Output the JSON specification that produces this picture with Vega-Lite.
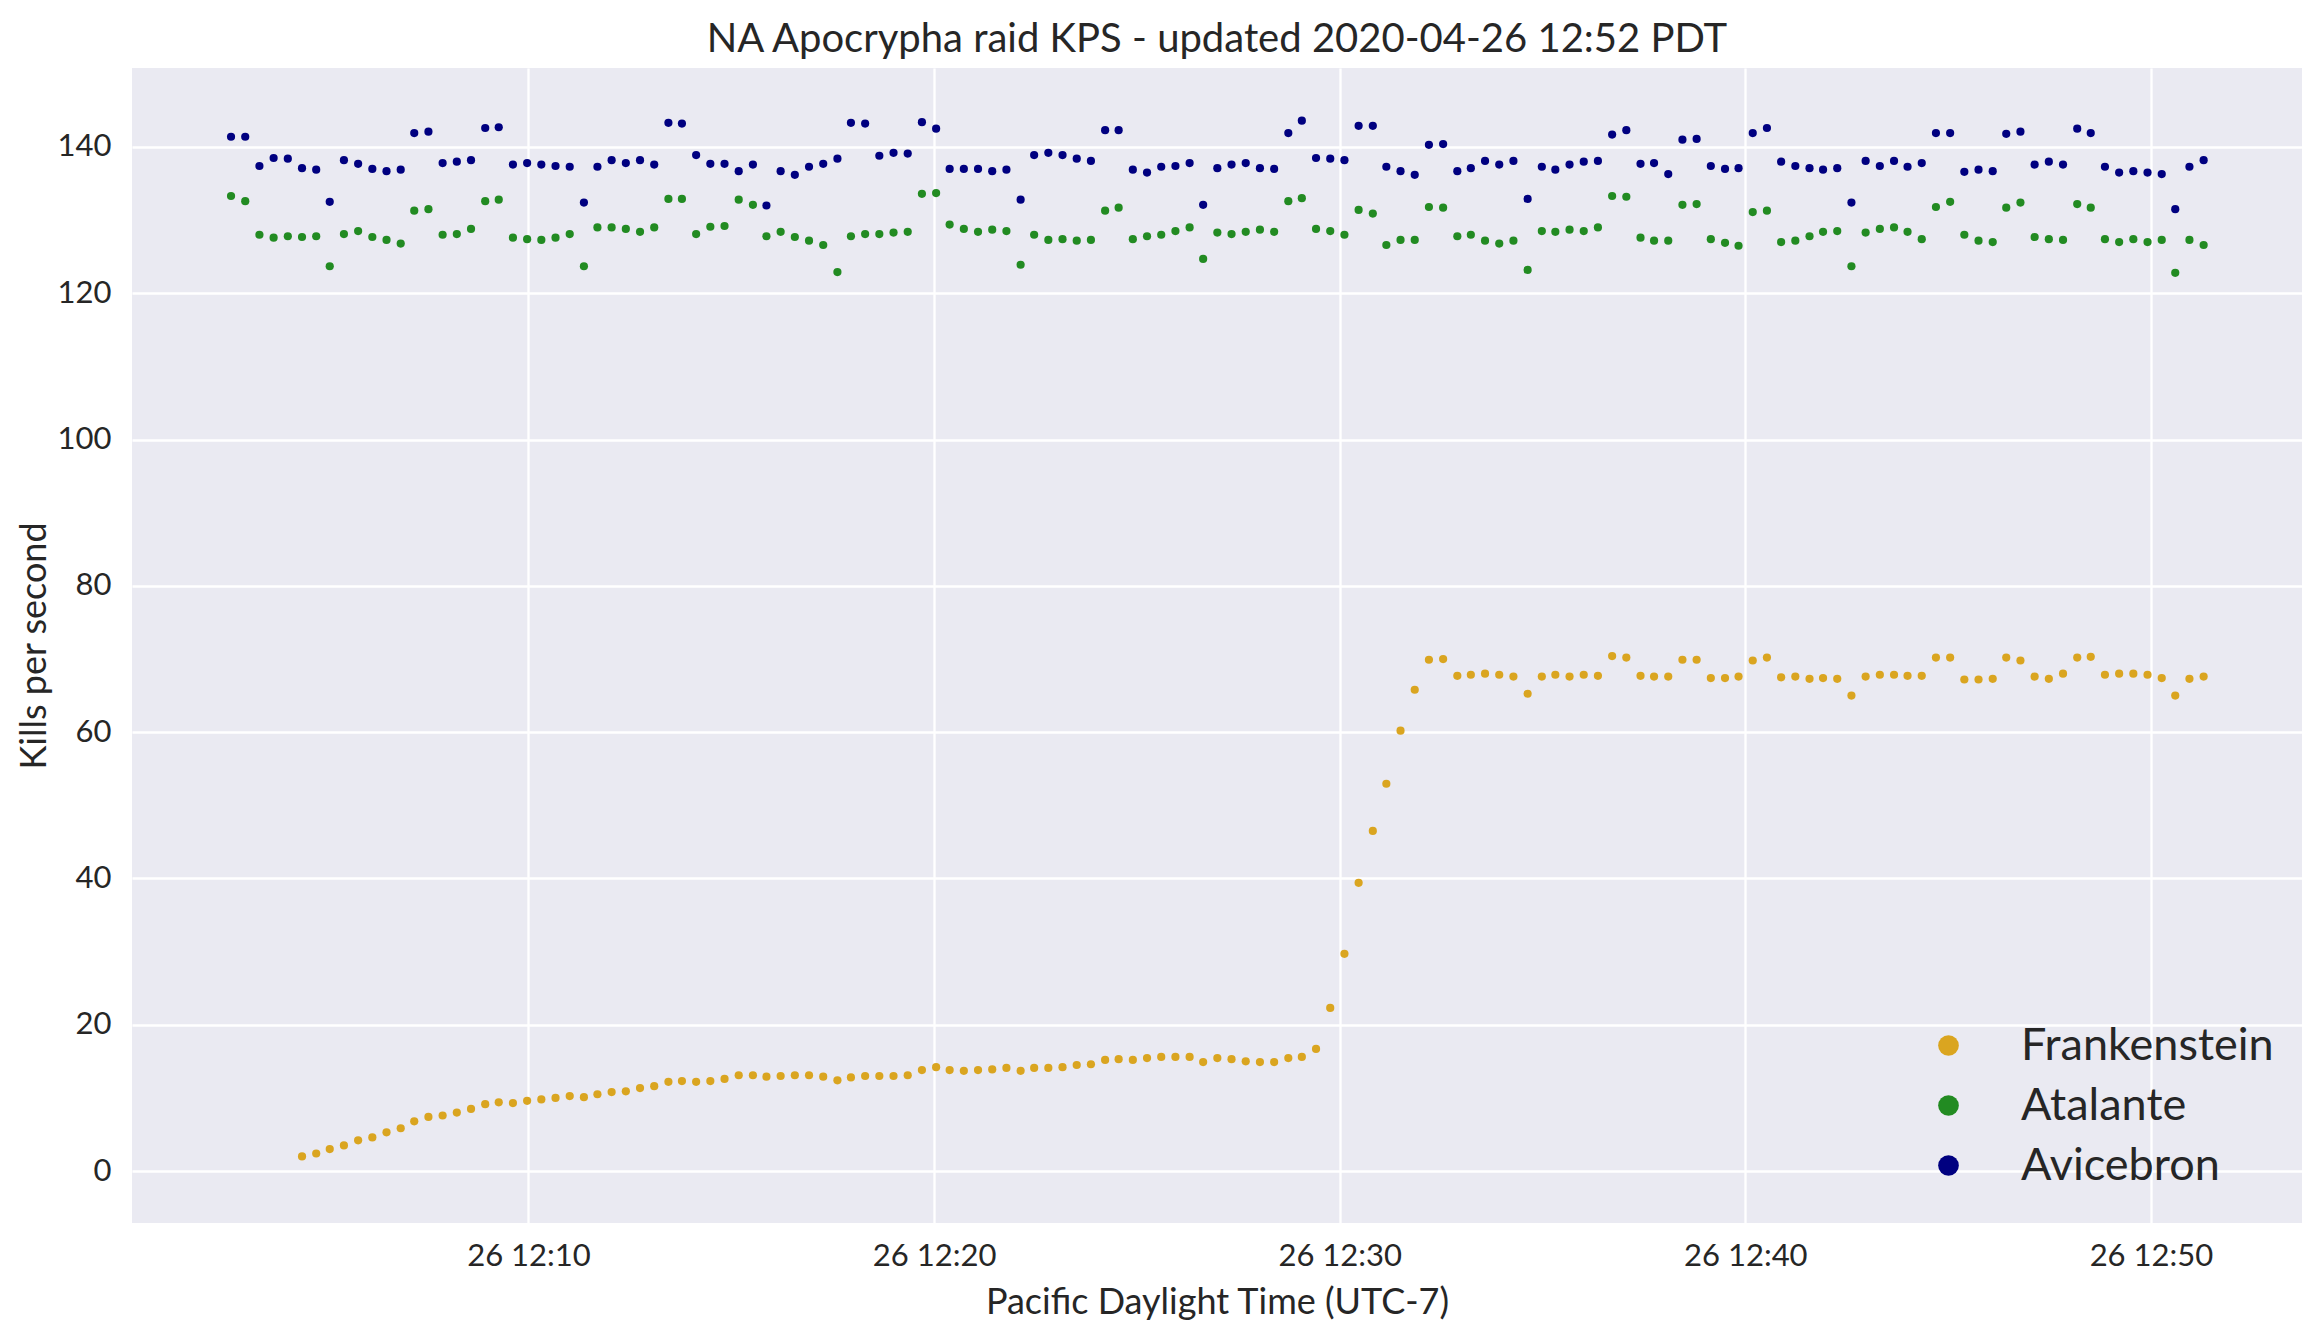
{
  "$schema": "https://vega.github.io/schema/vega-lite/v6.json",
  "width": 2170,
  "height": 1155,
  "autosize": {"type": "none"},
  "padding": {"left": 132, "top": 68, "right": 19, "bottom": 116},
  "background": "white",
  "title": {
    "text": "NA Apocrypha raid KPS - updated 2020-04-26 12:52 PDT",
    "font": "Lato",
    "fontSize": 40,
    "fontWeight": "normal",
    "color": "#262626",
    "anchor": "middle",
    "offset": 8
  },
  "config": {
    "view": {"fill": "#EAEAF2", "stroke": null},
    "axis": {
      "labelFont": "Lato",
      "titleFont": "Lato",
      "labelColor": "#262626",
      "titleColor": "#262626",
      "labelFontSize": 31,
      "titleFontSize": 36,
      "titleFontWeight": "normal",
      "domain": false,
      "ticks": false,
      "tickSize": 0,
      "gridColor": "white",
      "gridWidth": 2.3,
      "gridOpacity": 1
    },
    "legend": {
      "labelFont": "Lato",
      "labelColor": "#262626"
    }
  },
  "data": {
    "values": [
      {"t": "2020-04-26T12:02:40Z", "Avicebron": 141.4, "Atalante": 133.3, "Frankenstein": null},
      {"t": "2020-04-26T12:03:01Z", "Avicebron": 141.4, "Atalante": 132.6, "Frankenstein": null},
      {"t": "2020-04-26T12:03:22Z", "Avicebron": 137.4, "Atalante": 128.0, "Frankenstein": null},
      {"t": "2020-04-26T12:03:43Z", "Avicebron": 138.5, "Atalante": 127.6, "Frankenstein": null},
      {"t": "2020-04-26T12:04:04Z", "Avicebron": 138.4, "Atalante": 127.8, "Frankenstein": null},
      {"t": "2020-04-26T12:04:25Z", "Avicebron": 137.1, "Atalante": 127.7, "Frankenstein": 2.0},
      {"t": "2020-04-26T12:04:46Z", "Avicebron": 136.9, "Atalante": 127.8, "Frankenstein": 2.4},
      {"t": "2020-04-26T12:05:06Z", "Avicebron": 132.5, "Atalante": 123.7, "Frankenstein": 3.0},
      {"t": "2020-04-26T12:05:27Z", "Avicebron": 138.2, "Atalante": 128.1, "Frankenstein": 3.5},
      {"t": "2020-04-26T12:05:48Z", "Avicebron": 137.7, "Atalante": 128.5, "Frankenstein": 4.2},
      {"t": "2020-04-26T12:06:09Z", "Avicebron": 137.0, "Atalante": 127.7, "Frankenstein": 4.6},
      {"t": "2020-04-26T12:06:30Z", "Avicebron": 136.7, "Atalante": 127.3, "Frankenstein": 5.3},
      {"t": "2020-04-26T12:06:51Z", "Avicebron": 136.9, "Atalante": 126.8, "Frankenstein": 5.85},
      {"t": "2020-04-26T12:07:11Z", "Avicebron": 141.9, "Atalante": 131.3, "Frankenstein": 6.8},
      {"t": "2020-04-26T12:07:32Z", "Avicebron": 142.1, "Atalante": 131.5, "Frankenstein": 7.4},
      {"t": "2020-04-26T12:07:53Z", "Avicebron": 137.8, "Atalante": 128.0, "Frankenstein": 7.6},
      {"t": "2020-04-26T12:08:14Z", "Avicebron": 138.0, "Atalante": 128.1, "Frankenstein": 8.0},
      {"t": "2020-04-26T12:08:35Z", "Avicebron": 138.2, "Atalante": 128.8, "Frankenstein": 8.5},
      {"t": "2020-04-26T12:08:56Z", "Avicebron": 142.6, "Atalante": 132.6, "Frankenstein": 9.15},
      {"t": "2020-04-26T12:09:16Z", "Avicebron": 142.7, "Atalante": 132.8, "Frankenstein": 9.4},
      {"t": "2020-04-26T12:09:37Z", "Avicebron": 137.6, "Atalante": 127.6, "Frankenstein": 9.3},
      {"t": "2020-04-26T12:09:58Z", "Avicebron": 137.8, "Atalante": 127.4, "Frankenstein": 9.6},
      {"t": "2020-04-26T12:10:19Z", "Avicebron": 137.6, "Atalante": 127.3, "Frankenstein": 9.8},
      {"t": "2020-04-26T12:10:40Z", "Avicebron": 137.4, "Atalante": 127.6, "Frankenstein": 10.0},
      {"t": "2020-04-26T12:11:01Z", "Avicebron": 137.3, "Atalante": 128.1, "Frankenstein": 10.25},
      {"t": "2020-04-26T12:11:22Z", "Avicebron": 132.4, "Atalante": 123.7, "Frankenstein": 10.1},
      {"t": "2020-04-26T12:11:42Z", "Avicebron": 137.3, "Atalante": 129.0, "Frankenstein": 10.5},
      {"t": "2020-04-26T12:12:03Z", "Avicebron": 138.2, "Atalante": 129.0, "Frankenstein": 10.8},
      {"t": "2020-04-26T12:12:24Z", "Avicebron": 137.8, "Atalante": 128.8, "Frankenstein": 10.9},
      {"t": "2020-04-26T12:12:45Z", "Avicebron": 138.2, "Atalante": 128.4, "Frankenstein": 11.35},
      {"t": "2020-04-26T12:13:06Z", "Avicebron": 137.6, "Atalante": 129.0, "Frankenstein": 11.6},
      {"t": "2020-04-26T12:13:27Z", "Avicebron": 143.3, "Atalante": 132.9, "Frankenstein": 12.2},
      {"t": "2020-04-26T12:13:47Z", "Avicebron": 143.2, "Atalante": 132.9, "Frankenstein": 12.3},
      {"t": "2020-04-26T12:14:08Z", "Avicebron": 138.9, "Atalante": 128.1, "Frankenstein": 12.2},
      {"t": "2020-04-26T12:14:29Z", "Avicebron": 137.7, "Atalante": 129.1, "Frankenstein": 12.3},
      {"t": "2020-04-26T12:14:50Z", "Avicebron": 137.7, "Atalante": 129.2, "Frankenstein": 12.6},
      {"t": "2020-04-26T12:15:11Z", "Avicebron": 136.7, "Atalante": 132.8, "Frankenstein": 13.1},
      {"t": "2020-04-26T12:15:32Z", "Avicebron": 137.6, "Atalante": 132.1, "Frankenstein": 13.1},
      {"t": "2020-04-26T12:15:52Z", "Avicebron": 132.0, "Atalante": 127.8, "Frankenstein": 12.9},
      {"t": "2020-04-26T12:16:13Z", "Avicebron": 136.7, "Atalante": 128.4, "Frankenstein": 13.0},
      {"t": "2020-04-26T12:16:34Z", "Avicebron": 136.2, "Atalante": 127.7, "Frankenstein": 13.1},
      {"t": "2020-04-26T12:16:55Z", "Avicebron": 137.3, "Atalante": 127.2, "Frankenstein": 13.1},
      {"t": "2020-04-26T12:17:16Z", "Avicebron": 137.7, "Atalante": 126.6, "Frankenstein": 12.9},
      {"t": "2020-04-26T12:17:37Z", "Avicebron": 138.4, "Atalante": 122.9, "Frankenstein": 12.4},
      {"t": "2020-04-26T12:17:57Z", "Avicebron": 143.3, "Atalante": 127.8, "Frankenstein": 12.8},
      {"t": "2020-04-26T12:18:18Z", "Avicebron": 143.2, "Atalante": 128.1, "Frankenstein": 13.0},
      {"t": "2020-04-26T12:18:39Z", "Avicebron": 138.8, "Atalante": 128.1, "Frankenstein": 13.0},
      {"t": "2020-04-26T12:19:00Z", "Avicebron": 139.2, "Atalante": 128.3, "Frankenstein": 13.0},
      {"t": "2020-04-26T12:19:21Z", "Avicebron": 139.1, "Atalante": 128.4, "Frankenstein": 13.1},
      {"t": "2020-04-26T12:19:42Z", "Avicebron": 143.4, "Atalante": 133.6, "Frankenstein": 13.8},
      {"t": "2020-04-26T12:20:03Z", "Avicebron": 142.5, "Atalante": 133.7, "Frankenstein": 14.2},
      {"t": "2020-04-26T12:20:23Z", "Avicebron": 137.0, "Atalante": 129.4, "Frankenstein": 13.8},
      {"t": "2020-04-26T12:20:44Z", "Avicebron": 137.0, "Atalante": 128.8, "Frankenstein": 13.7},
      {"t": "2020-04-26T12:21:05Z", "Avicebron": 137.0, "Atalante": 128.4, "Frankenstein": 13.8},
      {"t": "2020-04-26T12:21:26Z", "Avicebron": 136.7, "Atalante": 128.7, "Frankenstein": 13.9},
      {"t": "2020-04-26T12:21:47Z", "Avicebron": 136.9, "Atalante": 128.5, "Frankenstein": 14.1},
      {"t": "2020-04-26T12:22:08Z", "Avicebron": 132.8, "Atalante": 123.9, "Frankenstein": 13.7},
      {"t": "2020-04-26T12:22:28Z", "Avicebron": 138.9, "Atalante": 128.0, "Frankenstein": 14.1},
      {"t": "2020-04-26T12:22:49Z", "Avicebron": 139.2, "Atalante": 127.3, "Frankenstein": 14.1},
      {"t": "2020-04-26T12:23:10Z", "Avicebron": 138.9, "Atalante": 127.4, "Frankenstein": 14.2},
      {"t": "2020-04-26T12:23:31Z", "Avicebron": 138.4, "Atalante": 127.2, "Frankenstein": 14.5},
      {"t": "2020-04-26T12:23:52Z", "Avicebron": 138.1, "Atalante": 127.3, "Frankenstein": 14.6},
      {"t": "2020-04-26T12:24:13Z", "Avicebron": 142.3, "Atalante": 131.3, "Frankenstein": 15.2},
      {"t": "2020-04-26T12:24:33Z", "Avicebron": 142.3, "Atalante": 131.7, "Frankenstein": 15.3},
      {"t": "2020-04-26T12:24:54Z", "Avicebron": 136.9, "Atalante": 127.4, "Frankenstein": 15.2},
      {"t": "2020-04-26T12:25:15Z", "Avicebron": 136.5, "Atalante": 127.8, "Frankenstein": 15.45},
      {"t": "2020-04-26T12:25:36Z", "Avicebron": 137.3, "Atalante": 128.0, "Frankenstein": 15.6},
      {"t": "2020-04-26T12:25:57Z", "Avicebron": 137.4, "Atalante": 128.5, "Frankenstein": 15.6},
      {"t": "2020-04-26T12:26:18Z", "Avicebron": 137.8, "Atalante": 129.0, "Frankenstein": 15.6},
      {"t": "2020-04-26T12:26:38Z", "Avicebron": 132.1, "Atalante": 124.7, "Frankenstein": 14.9},
      {"t": "2020-04-26T12:26:59Z", "Avicebron": 137.1, "Atalante": 128.3, "Frankenstein": 15.45},
      {"t": "2020-04-26T12:27:20Z", "Avicebron": 137.6, "Atalante": 128.1, "Frankenstein": 15.3},
      {"t": "2020-04-26T12:27:41Z", "Avicebron": 137.8, "Atalante": 128.4, "Frankenstein": 15.0},
      {"t": "2020-04-26T12:28:02Z", "Avicebron": 137.1, "Atalante": 128.7, "Frankenstein": 14.9},
      {"t": "2020-04-26T12:28:23Z", "Avicebron": 137.0, "Atalante": 128.4, "Frankenstein": 14.9},
      {"t": "2020-04-26T12:28:44Z", "Avicebron": 141.9, "Atalante": 132.6, "Frankenstein": 15.45},
      {"t": "2020-04-26T12:29:04Z", "Avicebron": 143.6, "Atalante": 133.0, "Frankenstein": 15.6},
      {"t": "2020-04-26T12:29:25Z", "Avicebron": 138.5, "Atalante": 128.8, "Frankenstein": 16.7},
      {"t": "2020-04-26T12:29:46Z", "Avicebron": 138.4, "Atalante": 128.5, "Frankenstein": 22.3},
      {"t": "2020-04-26T12:30:07Z", "Avicebron": 138.2, "Atalante": 128.0, "Frankenstein": 29.7},
      {"t": "2020-04-26T12:30:28Z", "Avicebron": 142.9, "Atalante": 131.4, "Frankenstein": 39.4},
      {"t": "2020-04-26T12:30:49Z", "Avicebron": 142.9, "Atalante": 130.9, "Frankenstein": 46.5},
      {"t": "2020-04-26T12:31:09Z", "Avicebron": 137.3, "Atalante": 126.6, "Frankenstein": 52.95},
      {"t": "2020-04-26T12:31:30Z", "Avicebron": 136.7, "Atalante": 127.3, "Frankenstein": 60.2},
      {"t": "2020-04-26T12:31:51Z", "Avicebron": 136.2, "Atalante": 127.3, "Frankenstein": 65.8},
      {"t": "2020-04-26T12:32:12Z", "Avicebron": 140.3, "Atalante": 131.8, "Frankenstein": 69.9},
      {"t": "2020-04-26T12:32:33Z", "Avicebron": 140.4, "Atalante": 131.7, "Frankenstein": 70.0},
      {"t": "2020-04-26T12:32:54Z", "Avicebron": 136.7, "Atalante": 127.8, "Frankenstein": 67.7},
      {"t": "2020-04-26T12:33:14Z", "Avicebron": 137.1, "Atalante": 128.0, "Frankenstein": 67.85},
      {"t": "2020-04-26T12:33:35Z", "Avicebron": 138.1, "Atalante": 127.2, "Frankenstein": 68.0},
      {"t": "2020-04-26T12:33:56Z", "Avicebron": 137.6, "Atalante": 126.8, "Frankenstein": 67.85},
      {"t": "2020-04-26T12:34:17Z", "Avicebron": 138.1, "Atalante": 127.2, "Frankenstein": 67.6},
      {"t": "2020-04-26T12:34:38Z", "Avicebron": 132.9, "Atalante": 123.2, "Frankenstein": 65.25},
      {"t": "2020-04-26T12:34:59Z", "Avicebron": 137.3, "Atalante": 128.5, "Frankenstein": 67.6},
      {"t": "2020-04-26T12:35:19Z", "Avicebron": 136.9, "Atalante": 128.4, "Frankenstein": 67.85},
      {"t": "2020-04-26T12:35:40Z", "Avicebron": 137.6, "Atalante": 128.7, "Frankenstein": 67.6},
      {"t": "2020-04-26T12:36:01Z", "Avicebron": 138.0, "Atalante": 128.5, "Frankenstein": 67.85},
      {"t": "2020-04-26T12:36:22Z", "Avicebron": 138.1, "Atalante": 129.0, "Frankenstein": 67.7},
      {"t": "2020-04-26T12:36:43Z", "Avicebron": 141.7, "Atalante": 133.3, "Frankenstein": 70.4},
      {"t": "2020-04-26T12:37:04Z", "Avicebron": 142.3, "Atalante": 133.2, "Frankenstein": 70.2},
      {"t": "2020-04-26T12:37:25Z", "Avicebron": 137.7, "Atalante": 127.6, "Frankenstein": 67.7},
      {"t": "2020-04-26T12:37:45Z", "Avicebron": 137.8, "Atalante": 127.2, "Frankenstein": 67.6},
      {"t": "2020-04-26T12:38:06Z", "Avicebron": 136.3, "Atalante": 127.2, "Frankenstein": 67.6},
      {"t": "2020-04-26T12:38:27Z", "Avicebron": 141.0, "Atalante": 132.1, "Frankenstein": 69.9},
      {"t": "2020-04-26T12:38:48Z", "Avicebron": 141.1, "Atalante": 132.2, "Frankenstein": 69.9},
      {"t": "2020-04-26T12:39:09Z", "Avicebron": 137.4, "Atalante": 127.4, "Frankenstein": 67.4},
      {"t": "2020-04-26T12:39:30Z", "Avicebron": 137.0, "Atalante": 126.9, "Frankenstein": 67.4},
      {"t": "2020-04-26T12:39:50Z", "Avicebron": 137.1, "Atalante": 126.5, "Frankenstein": 67.6},
      {"t": "2020-04-26T12:40:11Z", "Avicebron": 141.9, "Atalante": 131.1, "Frankenstein": 69.8},
      {"t": "2020-04-26T12:40:32Z", "Avicebron": 142.6, "Atalante": 131.3, "Frankenstein": 70.2},
      {"t": "2020-04-26T12:40:53Z", "Avicebron": 138.0, "Atalante": 127.0, "Frankenstein": 67.5},
      {"t": "2020-04-26T12:41:14Z", "Avicebron": 137.4, "Atalante": 127.2, "Frankenstein": 67.6},
      {"t": "2020-04-26T12:41:35Z", "Avicebron": 137.1, "Atalante": 127.8, "Frankenstein": 67.3},
      {"t": "2020-04-26T12:41:55Z", "Avicebron": 136.9, "Atalante": 128.4, "Frankenstein": 67.4},
      {"t": "2020-04-26T12:42:16Z", "Avicebron": 137.1, "Atalante": 128.5, "Frankenstein": 67.3},
      {"t": "2020-04-26T12:42:37Z", "Avicebron": 132.4, "Atalante": 123.7, "Frankenstein": 65.0},
      {"t": "2020-04-26T12:42:58Z", "Avicebron": 138.1, "Atalante": 128.3, "Frankenstein": 67.6},
      {"t": "2020-04-26T12:43:19Z", "Avicebron": 137.4, "Atalante": 128.8, "Frankenstein": 67.85},
      {"t": "2020-04-26T12:43:40Z", "Avicebron": 138.1, "Atalante": 129.0, "Frankenstein": 67.85},
      {"t": "2020-04-26T12:44:00Z", "Avicebron": 137.3, "Atalante": 128.4, "Frankenstein": 67.7},
      {"t": "2020-04-26T12:44:21Z", "Avicebron": 137.8, "Atalante": 127.4, "Frankenstein": 67.7},
      {"t": "2020-04-26T12:44:42Z", "Avicebron": 141.9, "Atalante": 131.8, "Frankenstein": 70.2},
      {"t": "2020-04-26T12:45:03Z", "Avicebron": 141.9, "Atalante": 132.5, "Frankenstein": 70.2},
      {"t": "2020-04-26T12:45:24Z", "Avicebron": 136.6, "Atalante": 128.0, "Frankenstein": 67.2},
      {"t": "2020-04-26T12:45:45Z", "Avicebron": 136.9, "Atalante": 127.2, "Frankenstein": 67.2},
      {"t": "2020-04-26T12:46:06Z", "Avicebron": 136.7, "Atalante": 127.0, "Frankenstein": 67.3},
      {"t": "2020-04-26T12:46:26Z", "Avicebron": 141.8, "Atalante": 131.7, "Frankenstein": 70.2},
      {"t": "2020-04-26T12:46:47Z", "Avicebron": 142.1, "Atalante": 132.4, "Frankenstein": 69.8},
      {"t": "2020-04-26T12:47:08Z", "Avicebron": 137.6, "Atalante": 127.7, "Frankenstein": 67.6},
      {"t": "2020-04-26T12:47:29Z", "Avicebron": 138.0, "Atalante": 127.4, "Frankenstein": 67.3},
      {"t": "2020-04-26T12:47:50Z", "Avicebron": 137.6, "Atalante": 127.3, "Frankenstein": 68.0},
      {"t": "2020-04-26T12:48:11Z", "Avicebron": 142.5, "Atalante": 132.2, "Frankenstein": 70.2},
      {"t": "2020-04-26T12:48:31Z", "Avicebron": 141.9, "Atalante": 131.7, "Frankenstein": 70.3},
      {"t": "2020-04-26T12:48:52Z", "Avicebron": 137.3, "Atalante": 127.4, "Frankenstein": 67.85},
      {"t": "2020-04-26T12:49:13Z", "Avicebron": 136.5, "Atalante": 127.0, "Frankenstein": 68.0},
      {"t": "2020-04-26T12:49:34Z", "Avicebron": 136.7, "Atalante": 127.4, "Frankenstein": 68.0},
      {"t": "2020-04-26T12:49:55Z", "Avicebron": 136.5, "Atalante": 127.0, "Frankenstein": 67.85},
      {"t": "2020-04-26T12:50:16Z", "Avicebron": 136.3, "Atalante": 127.3, "Frankenstein": 67.4},
      {"t": "2020-04-26T12:50:36Z", "Avicebron": 131.5, "Atalante": 122.8, "Frankenstein": 65.0},
      {"t": "2020-04-26T12:50:57Z", "Avicebron": 137.3, "Atalante": 127.3, "Frankenstein": 67.3},
      {"t": "2020-04-26T12:51:18Z", "Avicebron": 138.2, "Atalante": 126.6, "Frankenstein": 67.6}
    ]
  },
  "transform": [
    {"fold": ["Frankenstein", "Atalante", "Avicebron"], "as": ["series", "kps"]},
    {"filter": "isValid(datum.kps)"}
  ],
  "mark": {"type": "circle", "size": 67, "opacity": 1},
  "encoding": {
    "x": {
      "field": "t",
      "type": "temporal",
      "scale": {
        "type": "utc",
        "domain": [
          {"year": 2020, "month": 4, "date": 26, "hours": 12, "minutes": 0, "seconds": 13, "milliseconds": 500, "utc": true},
          {"year": 2020, "month": 4, "date": 26, "hours": 12, "minutes": 53, "seconds": 43, "milliseconds": 500, "utc": true}
        ]
      },
      "axis": {
        "title": "Pacific Daylight Time (UTC-7)",
        "labelExpr": "utcFormat(datum.value, '%d %H:%M')",
        "labelPadding": 18,
        "titlePadding": 14,
        "values": [
          {"year": 2020, "month": 4, "date": 26, "hours": 12, "minutes": 10, "utc": true},
          {"year": 2020, "month": 4, "date": 26, "hours": 12, "minutes": 20, "utc": true},
          {"year": 2020, "month": 4, "date": 26, "hours": 12, "minutes": 30, "utc": true},
          {"year": 2020, "month": 4, "date": 26, "hours": 12, "minutes": 40, "utc": true},
          {"year": 2020, "month": 4, "date": 26, "hours": 12, "minutes": 50, "utc": true}
        ]
      }
    },
    "y": {
      "field": "kps",
      "type": "quantitative",
      "scale": {"domain": [-7.1, 150.8], "nice": false, "zero": false},
      "axis": {
        "title": "Kills per second",
        "values": [0, 20, 40, 60, 80, 100, 120, 140],
        "labelPadding": 21,
        "titlePadding": 4
      }
    },
    "color": {
      "field": "series",
      "type": "nominal",
      "sort": ["Frankenstein", "Atalante", "Avicebron"],
      "scale": {
        "domain": ["Frankenstein", "Atalante", "Avicebron"],
        "range": ["#DAA520", "#228B22", "#000080"]
      },
      "legend": {
        "title": null,
        "orient": "none",
        "legendX": 1794,
        "legendY": 955,
        "padding": 0,
        "symbolType": "circle",
        "symbolSize": 428,
        "symbolStrokeWidth": 0,
        "symbolOpacity": 1,
        "labelFontSize": 45,
        "labelLimit": 500,
        "labelOffset": 50,
        "rowPadding": 14
      }
    }
  }
}
